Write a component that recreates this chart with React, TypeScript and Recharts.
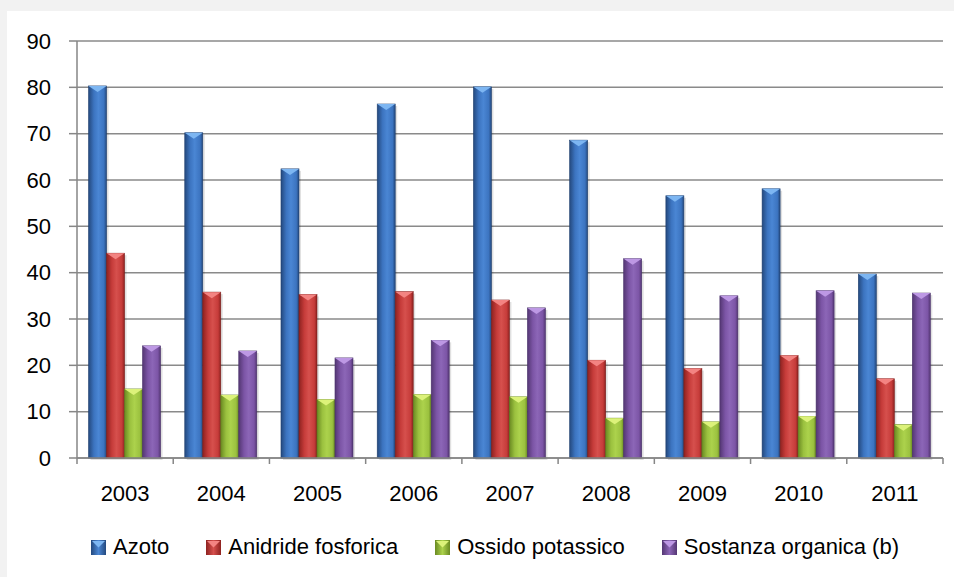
import React from "react";
import { BarChart, Bar, XAxis, YAxis, CartesianGrid } from "recharts";

const years = ["2003", "2004", "2005", "2006", "2007", "2008", "2009", "2010", "2011"];
const azoto = [80.3, 70.2, 62.4, 76.4, 80.1, 68.6, 56.6, 58.1, 39.7];
const anidride = [44.2, 35.8, 35.3, 35.9, 34.1, 21.1, 19.3, 22.1, 17.1];
const ossido = [14.9, 13.6, 12.6, 13.7, 13.2, 8.6, 7.8, 9.0, 7.2];
const sostanza = [24.2, 23.1, 21.6, 25.4, 32.4, 43.0, 35.0, 36.1, 35.6];
const seriesNames = ["Azoto", "Anidride fosforica", "Ossido potassico", "Sostanza organica (b)"];
const yTicks = [0, 10, 20, 30, 40, 50, 60, 70, 80, 90];

const data = years.map((y, i) => ({
  year: y,
  azoto: azoto[i],
  anidride: anidride[i],
  ossido: ossido[i],
  sostanza: sostanza[i],
}));

const keys = ["azoto", "anidride", "ossido", "sostanza"];
const palette = [
  { id: "gBlue", dark: "#24497e", mid: "#3c74c0", light: "#4a86d4", top: "#7db6f2", stroke: "#1f3f6e" },
  { id: "gRed", dark: "#8e2220", mid: "#c63c3a", light: "#d6504d", top: "#f38482", stroke: "#7a1d1b" },
  { id: "gGreen", dark: "#6a8a22", mid: "#9bc13f", light: "#acd24c", top: "#dcf27a", stroke: "#5c7a1c" },
  { id: "gPurple", dark: "#543773", mid: "#7c55a6", light: "#8c66b7", top: "#bd98e4", stroke: "#48306a" },
];

const FONT = "'Liberation Sans', Arial, sans-serif";

const makeShape = (p: typeof palette[number]) => (props: any) => {
  const { x, y, width, height } = props;
  if (!height || height <= 0) return <g />;
  const th = Math.min(6, height);
  return (
    <g>
      <rect x={x + 2} y={y + 2} width={width} height={height} fill="rgba(0,0,0,0.12)" />
      <rect x={x} y={y} width={width} height={height} fill={`url(#${p.id})`} stroke={p.stroke} strokeWidth={0.6} />
      <polygon
        points={`${x},${y} ${x + width},${y} ${x + width / 2},${y + th}`}
        fill={p.top}
      />
    </g>
  );
};

const shapes = palette.map((p) => makeShape(p));

const XTick = (props: any) => {
  const { x, y, payload, index } = props;
  const half = payload && payload.offset ? payload.offset : 866 / 18;
  const last = index === years.length - 1;
  return (
    <g>
      <line x1={x - half} x2={x - half} y1={y} y2={y + 6} stroke="#868686" strokeWidth={1.5} />
      {last && <line x1={x + half} x2={x + half} y1={y} y2={y + 6} stroke="#868686" strokeWidth={1.5} />}
      <text x={x} y={y + 43} textAnchor="middle" fontSize={22} fontFamily={FONT} fill="#000">
        {payload.value}
      </text>
    </g>
  );
};

const LegendIcon = ({ p }: { p: typeof palette[number] }) => (
  <svg width={15} height={15} style={{ display: "block" }}>
    <defs>
      <linearGradient id={p.id + "L"} x1="0" y1="0" x2="1" y2="0">
        <stop offset="0" stopColor={p.dark} />
        <stop offset="0.5" stopColor={p.light} />
        <stop offset="1" stopColor={p.dark} />
      </linearGradient>
    </defs>
    <rect x={0} y={0} width={15} height={15} fill={`url(#${p.id}L)`} />
    <polygon points="1,1 14,1 7.5,7.5" fill={p.top} />
  </svg>
);

export default function App() {
  return (
    <div style={{ position: "absolute", left: 0, top: 0, width: 954, height: 577, background: "#f2f2f2", overflow: "hidden" }}>
      <div style={{ position: "absolute", left: 7, top: 11, width: 947, height: 566, background: "#ffffff" }} />
      <div style={{ position: "absolute", left: 0, top: 0 }}>
        <BarChart
          width={954}
          height={577}
          data={data}
          margin={{ top: 41, right: 11, bottom: 0, left: 0 }}
          barCategoryGap="12%"
          barGap={0}
        >
          <defs>
            {palette.map((p) => (
              <linearGradient key={p.id} id={p.id} x1="0" y1="0" x2="1" y2="0">
                <stop offset="0" stopColor={p.dark} />
                <stop offset="0.3" stopColor={p.mid} />
                <stop offset="0.55" stopColor={p.light} />
                <stop offset="0.85" stopColor={p.mid} />
                <stop offset="1" stopColor={p.dark} />
              </linearGradient>
            ))}
          </defs>
          <CartesianGrid vertical={false} stroke="#8a8a8a" strokeWidth={1.5} />
          <XAxis
            dataKey="year"
            height={119}
            interval={0}
            tickSize={0}
            tickMargin={0}
            tick={<XTick />}
            axisLine={{ stroke: "#868686", strokeWidth: 1.5 }}
          />
          <YAxis
            width={77}
            domain={[0, 90]}
            ticks={yTicks}
            interval={0}
            tickSize={8}
            tickMargin={18}
            tickLine={{ stroke: "#868686", strokeWidth: 1.5 }}
            axisLine={{ stroke: "#868686", strokeWidth: 1.5 }}
            tick={{ fontSize: 22, fontFamily: FONT, fill: "#000" }}
          />
          {keys.map((k, i) => (
            <Bar key={k} dataKey={k} name={seriesNames[i]} fill={palette[i].mid} shape={shapes[i]} isAnimationActive={false} />
          ))}
        </BarChart>
      </div>
      <div
        style={{
          position: "absolute",
          left: 91,
          top: 533,
          display: "flex",
          alignItems: "center",
          gap: 37,
          fontFamily: FONT,
          fontSize: 22,
          color: "#000",
          whiteSpace: "nowrap",
        }}
      >
        {seriesNames.map((n, i) => (
          <div key={n} style={{ display: "flex", alignItems: "center" }}>
            <LegendIcon p={palette[i]} />
            <span style={{ marginLeft: 7, lineHeight: "28px" }}>{n}</span>
          </div>
        ))}
      </div>
    </div>
  );
}
